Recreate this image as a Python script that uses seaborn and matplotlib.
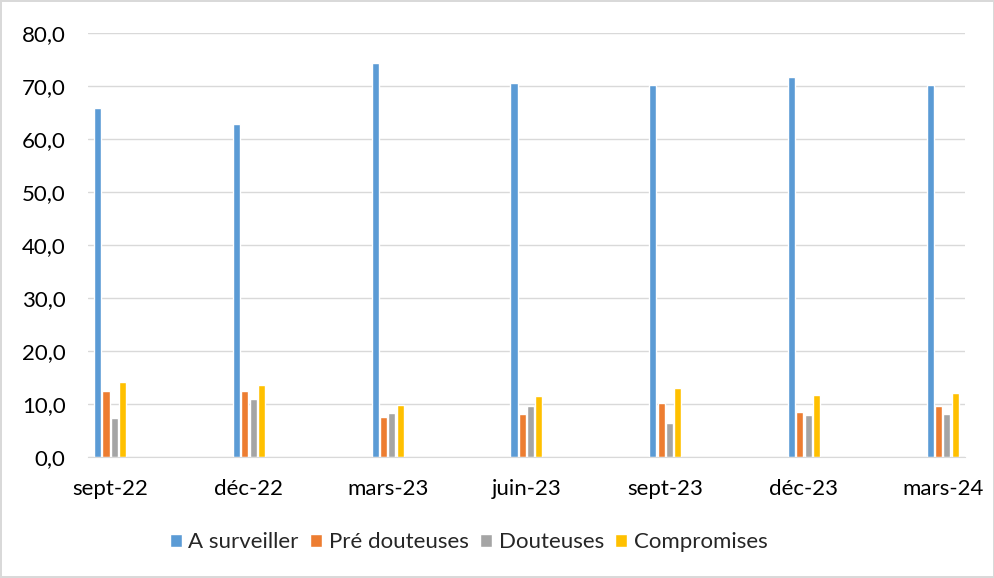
import seaborn as sns
import matplotlib.pyplot as plt
import matplotlib.ticker as mticker
import pandas as pd

# Data
periods = ["sept-22", "déc-22", "mars-23", "juin-23", "sept-23", "déc-23", "mars-24"]
series_names = ["A surveiller", "Pré douteuses", "Douteuses", "Compromises"]
a_surveiller = [65.8, 62.8, 74.4, 70.6, 70.2, 71.7, 70.2]
pre_douteuses = [12.5, 12.4, 7.5, 8.2, 10.1, 8.5, 9.6]
douteuses = [7.3, 10.9, 8.3, 9.7, 6.5, 7.9, 8.1]
compromises = [14.2, 13.6, 9.9, 11.6, 13.1, 11.7, 12.1]
colors = ["#5B9BD5", "#ED7D31", "#A5A5A5", "#FFC000"]

df = pd.DataFrame({
    "periode": periods * 4,
    "serie": sum([[s] * len(periods) for s in series_names], []),
    "valeur": a_surveiller + pre_douteuses + douteuses + compromises,
})

sns.set_style("white")
plt.rcParams["font.family"] = ["Lato", "DejaVu Sans"]

fig = plt.figure(figsize=(9.95, 5.78), dpi=100)
fig.patch.set_edgecolor("#d9d9d9")
fig.patch.set_linewidth(1.5)
ax = fig.add_axes([0.0884, 0.2093, 0.8814, 0.7336])

sns.barplot(data=df, x="periode", y="valeur", hue="serie", order=periods,
            hue_order=series_names, palette=colors, width=0.24, gap=0.15,
            ax=ax, saturation=1)

ax.set_ylim(0, 80)
ax.set_xlim(-0.16, 6.16)
ax.yaxis.set_major_locator(mticker.MultipleLocator(10))
ax.yaxis.set_major_formatter(mticker.FuncFormatter(lambda v, p: f"{v:.1f}".replace(".", ",")))
ax.grid(axis="y", color="#d9d9d9", linewidth=1)
ax.set_axisbelow(True)
for s in ["top", "right", "left"]:
    ax.spines[s].set_visible(False)
ax.spines["bottom"].set_color("#d9d9d9")
ax.set_xlabel("")
ax.set_ylabel("")
ax.tick_params(axis="both", length=0, labelsize=16, colors="#000000")
ax.tick_params(axis="y", pad=16)
ax.tick_params(axis="x", pad=16)

handles, labels = ax.get_legend_handles_labels()
ax.legend_.remove()
fig.legend(handles, labels, loc="center", bbox_to_anchor=(0.471, 0.062),
           ncol=4, frameon=False, fontsize=16, handlelength=0.55, handleheight=0.55,
           handletextpad=0.3, columnspacing=0.5)

fig.savefig("out.png", dpi=100)
